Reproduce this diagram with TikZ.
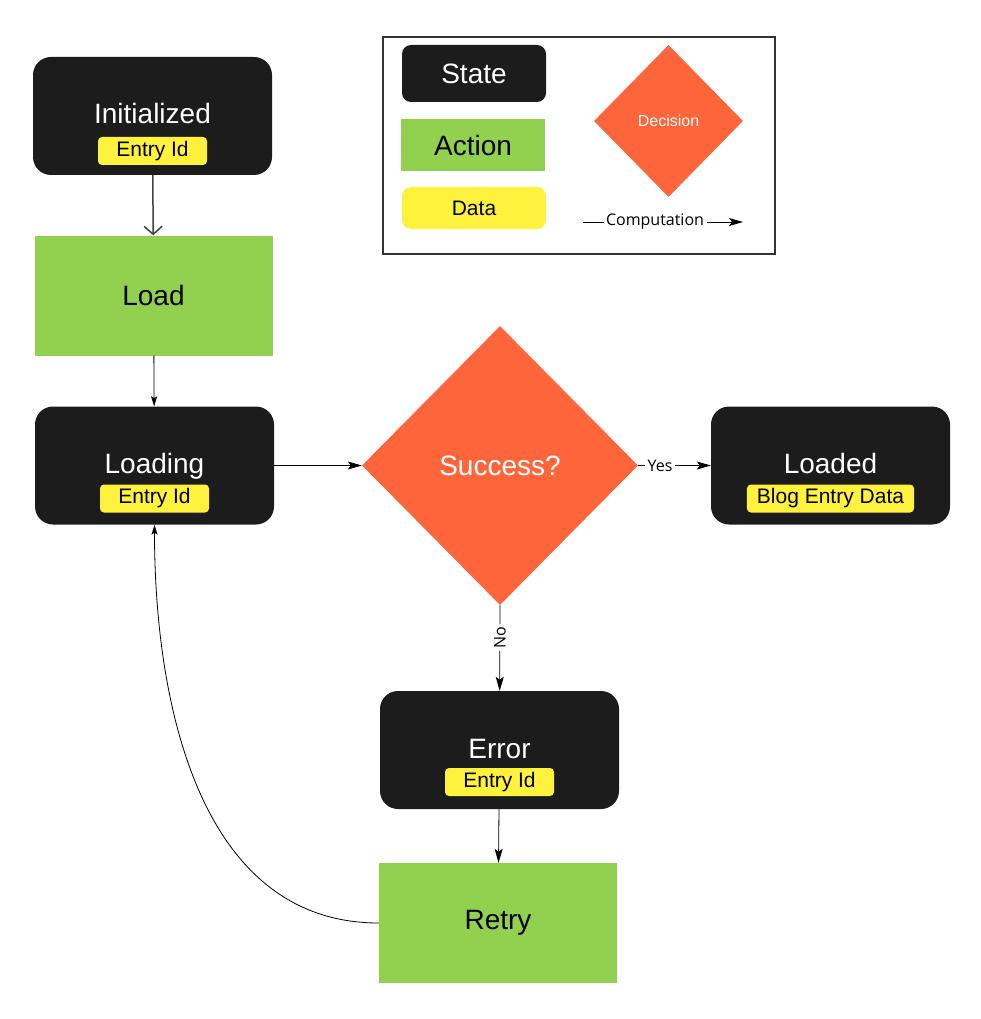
\documentclass[tikz,border=0pt]{standalone}
\usepackage{fontspec}
\setmainfont{Liberation Sans}
\newfontfamily\labelfont{Open Sans}
\usetikzlibrary{positioning, arrows.meta, shapes.geometric, calc}
\definecolor{stateblack}{HTML}{1C1C1C}
\definecolor{actiongreen}{HTML}{92D050}
\definecolor{decisionred}{HTML}{FF653B}
\definecolor{datayellow}{HTML}{FFF23C}

\begin{document}
\begin{tikzpicture}[
    x=1pt, y=-1pt,
    state/.style={fill=stateblack, rounded corners=18pt, minimum width=239pt, minimum height=118pt},
    stitle/.style={anchor=base, text=white, font=\fontsize{28}{32}\selectfont},
    datatag/.style={fill=datayellow, rounded corners=4pt, minimum width=109pt, minimum height=28pt,
      inner xsep=10pt, inner ysep=0pt, font=\fontsize{21}{24}\selectfont},
    action/.style={fill=actiongreen, minimum width=238pt, minimum height=120pt, font=\fontsize{28}{32}\selectfont},
    decision/.style={diamond, fill=decisionred, inner sep=0pt, text=white, font=\fontsize{28}{32}\selectfont},
    flow/.style={-{Stealth[length=14pt, width=8pt, inset=3pt]}, line width=0.8pt},
    smallflow/.style={-{Stealth[length=10pt, width=6pt, inset=2pt]}, line width=0.8pt},
    edgelabel/.style={fill=white, inner sep=2.5pt, font=\labelfont\fontsize{16}{19}\selectfont}
  ]
  \useasboundingbox (0,0) rectangle (980,1019);

  % legend
  \node[draw=black!80, line width=1.6pt, minimum width=392pt, minimum height=217pt] (legend) at (579,145.5) {};
  \node[fill=stateblack, rounded corners=9pt, minimum width=144pt, minimum height=57pt,
    text=white, font=\fontsize{28}{32}\selectfont] (lstate) at (474,73.5) {State};
  \node[fill=actiongreen, minimum width=144pt, minimum height=52pt,
    font=\fontsize{28}{32}\selectfont] (laction) at (473,145) {Action};
  \node[fill=datayellow, rounded corners=9pt, minimum width=144pt, minimum height=42pt,
    font=\fontsize{21}{24}\selectfont] (ldata) at (474,208) {Data};
  \node[decision, minimum width=149pt, minimum height=152pt,
    font=\fontsize{16}{19}\selectfont] (ldecision) at (668.5,121) {Decision};
  \coordinate (lcompa) at (583,222);
  \coordinate (lcompb) at (743,222);
  \draw[flow, line width=1pt] (lcompa) -- node[edgelabel, pos=0.45]{Computation} (lcompb);

  % states and actions
  \node[state] (init) at (152.5,116) {};
  \node[stitle] at ([yshift=-8pt]init.center) {Initialized};
  \node[datatag] (initid) at ([yshift=-35pt]init.center) {Entry Id};

  \node[action] (load) at (153.5,295.5) {Load};

  \node[state] (loading) at (154.5,465.5) {};
  \node[stitle] at ([yshift=-8pt]loading.center) {Loading};
  \node[datatag] (loadingid) at ([yshift=-33pt]loading.center) {Entry Id};

  \node[decision, minimum width=276pt, minimum height=279pt] (success) at (500,465.5) {Success?};

  \node[state] (loaded) at (830.5,465.5) {};
  \node[stitle] at ([yshift=-8pt]loaded.center) {Loaded};
  \node[datatag] (loadeddata) at ([yshift=-33pt]loaded.center) {Blog Entry Data};

  \node[state] (error) at (499.5,750) {};
  \node[stitle] at ([yshift=-8pt]error.center) {Error};
  \node[datatag] (errorid) at ([yshift=-32pt]error.center) {Entry Id};

  \node[action] (retry) at (498,923) {Retry};

  % connectors
  \draw[-{Straight Barb[length=8pt, width=18pt]}, draw=black!75, line width=1.5pt] (init) -- (load);
  \draw[smallflow] (load) -- (loading);
  \draw[flow] (loading) -- (success);
  \draw[flow] (success.east) -- node[edgelabel, pos=0.3]{Yes} (loaded);
  \draw[flow] (success.south) -- node[edgelabel, pos=0.38, rotate=90]{No} (error);
  \draw[flow] (error) -- (retry);
  \draw[smallflow] (retry.west) to[out=180, in=-90] (loading.south);
\end{tikzpicture}
\end{document}
